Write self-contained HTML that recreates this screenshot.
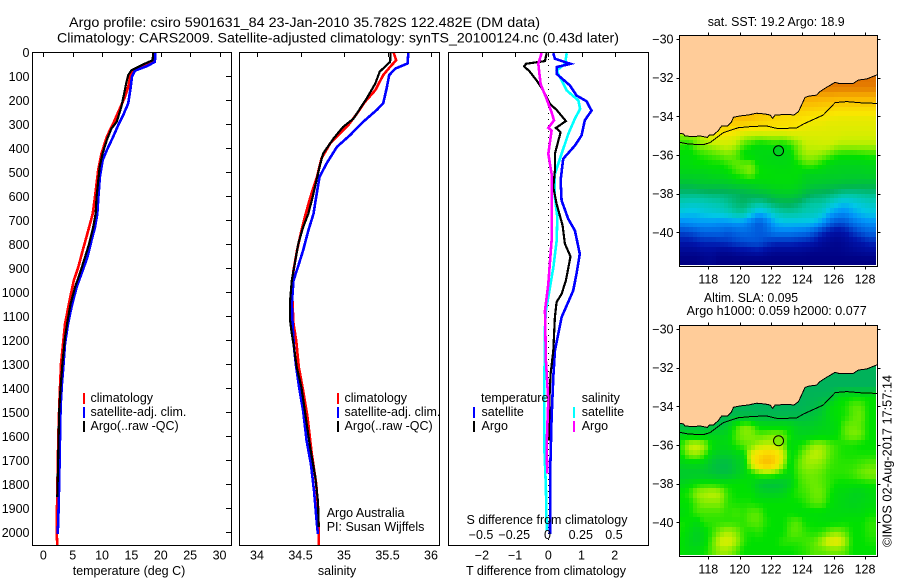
<!DOCTYPE html>
<html>
<head>
<meta charset="utf-8">
<title>Argo profile csiro 5901631_84</title>
<style>
html,body{margin:0;padding:0;background:#fff;}
svg{display:block;}
text{font-family:"Liberation Sans",sans-serif;font-size:12.5px;fill:#000;}
</style>
</head>
<body>
<svg id="chart" xmlns="http://www.w3.org/2000/svg" width="900" height="580" viewBox="0 0 900 580">
  <rect x="0" y="0" width="900" height="580" fill="#fff"/>
  <text x="69" y="27" style="font-size:14px" textLength="471" lengthAdjust="spacingAndGlyphs">Argo profile: csiro 5901631_84 23-Jan-2010 35.782S 122.482E (DM data)</text>
  <text x="57" y="42.5" style="font-size:14px" textLength="562" lengthAdjust="spacingAndGlyphs">Climatology: CARS2009. Satellite-adjusted climatology: synTS_20100124.nc (0.43d later)</text>

  <g id="panel-t"></g>
  <g id="panel-s"></g>
  <g id="panel-d"></g>
  <g id="map-sst"></g>
  <g id="map-sla"></g>

  <text x="129" y="575" text-anchor="middle">temperature (deg C)</text>
  <text x="337" y="575" text-anchor="middle">salinity</text>
  <text x="546" y="575" text-anchor="middle">T difference from climatology</text>
  <text x="547" y="524" text-anchor="middle">S difference from climatology</text>

  <g>
    <rect x="83" y="393" width="2" height="11" fill="#ff0000"/>
    <text x="90.5" y="402">climatology</text>
    <rect x="83" y="407" width="2" height="11" fill="#0000ff"/>
    <text x="90.5" y="416">satellite-adj. clim.</text>
    <rect x="83" y="421" width="2" height="11" fill="#000"/>
    <text x="90.5" y="430">Argo(..raw -QC)</text>
  </g>
  <g>
    <rect x="337" y="393" width="2" height="11" fill="#ff0000"/>
    <text x="344.5" y="402">climatology</text>
    <rect x="337" y="407" width="2" height="11" fill="#0000ff"/>
    <text x="344.5" y="416">satellite-adj. clim.</text>
    <rect x="337" y="421" width="2" height="11" fill="#000"/>
    <text x="344.5" y="430">Argo(..raw -QC)</text>
    <text x="326.7" y="517">Argo Australia</text>
    <text x="326.7" y="531">PI: Susan Wijffels</text>
  </g>
  <g>
    <text x="481" y="402">temperature</text>
    <rect x="473" y="407" width="2" height="11" fill="#0000ff"/>
    <text x="481.5" y="416">satellite</text>
    <rect x="473" y="421" width="2" height="11" fill="#000"/>
    <text x="481.5" y="430">Argo</text>
    <text x="581.7" y="402">salinity</text>
    <rect x="573" y="407" width="2" height="11" fill="#00ffff"/>
    <text x="581.7" y="416">satellite</text>
    <rect x="573" y="421" width="2" height="11" fill="#ff00ff"/>
    <text x="581.7" y="430">Argo</text>
  </g>

  <text x="707.7" y="26" textLength="137" lengthAdjust="spacingAndGlyphs">sat. SST: 19.2 Argo: 18.9</text>
  <text x="704" y="302" textLength="94" lengthAdjust="spacingAndGlyphs">Altim. SLA: 0.095</text>
  <text x="686.7" y="315" textLength="180" lengthAdjust="spacingAndGlyphs">Argo h1000: 0.059 h2000: 0.077</text>
  <text transform="translate(891.5,547) rotate(-90)" textLength="172" lengthAdjust="spacingAndGlyphs">©IMOS 02-Aug-2017 17:57:14</text>
</svg>

<script>
// ---------- profile data ----------
const depthTicks = [0,100,200,300,400,500,600,700,800,900,1000,1100,1200,1300,1400,1500,1600,1700,1800,1900,2000];
const tempTicks = [0,5,10,15,20,25,30];
const salTicks = [34,34.5,35,35.5,36];
const salTickLabels = ['34','34.5','35','35.5','36'];
const dTTicks = [-2,-1,0,1,2];
const dTTickLabels = ['\u22122','\u22121','0','1','2'];
const dSTicks = [-0.5,-0.25,0,0.25,0.5];
const dSTickLabels = ['\u22120.5','\u22120.25','0','0.25','0.5'];

const tempClimDepth = [0,39,53,74,94,143,185,240,296,351,421,490,601,672,742,825,894,950,1012,1061,1131,1228,1297,1367,1464,1603,1756,1992,2054];
const tempClimValue = [18.9,18.8,17.5,15.3,14.85,14.45,13.9,12.9,11.9,10.8,9.9,9.35,8.8,8.4,7.65,6.7,5.95,5.2,4.65,4.25,3.7,3.3,3.02,2.9,2.72,2.55,2.44,2.27,2.38];
const tempSatDepth = [0,39,57,76,101,150,212,261,303,351,407,449,518,601,672,728,783,853,922,978,1061,1131,1214,1311,1381,1478,1631,1770,1950,2006];
const tempSatValue = [19.05,19,17.6,15.6,15.1,14.85,14.45,13.6,12.75,11.9,10.8,10.1,9.64,9.38,9.2,8.8,8.2,7.5,6.5,5.67,4.8,4.2,3.7,3.4,3.17,2.95,2.83,2.72,2.55,2.45];
const tempArgoDepth = [0,32,53,74,94,122,178,226,289,317,365,421,476,601,672,728,797,853,922,978,1047,1117,1186,1297,1394,1492,1603,1728,1853];
const tempArgoValue = [18.7,18.6,16.7,15,14.45,14.17,13.7,13.3,12.5,11.6,10.8,10.1,9.6,9.07,8.9,8.5,7.8,7.1,6.2,5.4,4.65,4.14,3.7,3.25,2.95,2.7,2.6,2.5,2.38];

const salClimDepth = [0,32,60,94,157,206,254,303,338,379,442,518,601,672,742,825,908,964,1061,1131,1200,1311,1408,1519,1672,1797,1908,2054];
const salClimValue = [35.57,35.6,35.53,35.45,35.36,35.24,35.15,35.05,34.95,34.84,34.74,34.69,34.615,34.56,34.51,34.46,34.42,34.4,34.41,34.42,34.45,34.48,34.53,34.58,34.63,34.68,34.705,34.71];
const salSatDepth = [0,46,67,94,150,212,240,289,344,393,462,518,601,672,742,825,894,950,1047,1144,1228,1311,1408,1492,1617,1714,1825,1950,2006];
const salSatValue = [35.74,35.73,35.59,35.52,35.49,35.45,35.375,35.22,35.07,34.92,34.8,34.72,34.68,34.65,34.59,34.53,34.47,34.42,34.4,34.41,34.425,34.45,34.49,34.53,34.57,34.62,34.655,34.685,34.7];
const salArgoDepth = [0,39,80,129,192,247,275,310,358,421,476,601,672,728,797,867,950,1033,1117,1172,1228,1311,1394,1492,1644,1769,1867,1978];
const salArgoValue = [35.536,35.53,35.41,35.36,35.26,35.16,35.11,34.99,34.88,34.76,34.72,34.64,34.59,34.53,34.475,34.44,34.4,34.38,34.38,34.4,34.425,34.456,34.51,34.55,34.61,34.67,34.7,34.71];

const dTSatDepth = [3,26,40,47,61,89,137,179,203,242,283,346,388,443,533,617,693,742,839,922,992,1040,1103,1172,1242,1353,1519,1728,2006];
const dTSatValue = [0.15,0.2,0.5,0.67,0.25,0.25,0.65,0.85,1.15,1.3,1.1,1,0.8,0.45,0.37,0.4,0.6,0.8,0.95,0.85,0.75,0.6,0.4,0.3,0.2,0.15,0.1,0.06,0.05];
const dTArgoDepth = [3,36,47,58,78,117,158,214,239,286,314,332,422,492,561,631,721,797,850,950,1006,1040,1103,1242,1339,1450,1617];
const dTArgoValue = [-0.05,-0.1,-0.67,-0.73,-0.57,-0.35,-0.15,0.05,0.25,0.53,0.23,0.37,0.2,0.2,0.15,0.25,0.43,0.5,0.67,0.53,0.4,0.25,0.2,0.15,0.07,0.03,0.02];
const dSSatDepth = [3,47,75,103,158,200,235,276,339,401,506,603,686,783,894,1019,1075,1144,1283,1450,1644,1811,1992];
const dSSatValue = [0.138,0.126,0.063,0.088,0.138,0.226,0.239,0.2,0.15,0.113,0.05,0.05,0.068,0.063,0.038,0,-0.018,-0.025,-0.028,-0.03,-0.03,-0.018,-0.012];
const dSArgoDepth = [3,47,131,186,249,283,314,325,422,506,783,964,1075,1283,1450,1631,1755];
const dSArgoValue = [-0.05,-0.075,-0.058,-0.018,0.025,0.043,0,0.025,0,0.025,0.025,0,-0.025,-0.018,0,-0.012,-0.008];

// ---------- map data (0.5 degree grid) ----------
const mapLons = [116.25,116.75,117.25,117.75,118.25,118.75,119.25,119.75,120.25,120.75,121.25,121.75,122.25,122.75,123.25,123.75,124.25,124.75,125.25,125.75,126.25,126.75,127.25,127.75,128.25];
const mapLats = [-32,-32.5,-33,-33.5,-34,-34.5,-35,-35.5,-36,-36.5,-37,-37.5,-38,-38.5,-39,-39.5,-40,-40.5,-41,-41.5];
const sstGrid = [
[25,25,25,25,25,25,25,25,25,25,25,25,25,25,25,25,25,25,25,25,25,25,25,25,25],
[24.8,24.8,24.8,24.8,24.8,24.8,24.8,24.8,24.8,24.8,24.8,24.8,24.8,24.8,24.8,24.8,24.8,24.8,24.8,24.8,24.8,24.8,24.8,24.8,24.8],
[24,24,24,24,24,24,24,24,24,24,24,24,24,24,24,24,23.8,23.8,23.7,23.7,23.6,23.6,23.6,23.6,23.6],
[23,23,23,23,23,23,23,23,23,23,23,23,23,23,23,23,23,22.9,22.8,22.7,22.5,22.5,22.5,22.5,22.5],
[22,22,22,22,22.5,23,23.2,23.4,23.5,23.4,23,22.8,22.5,22.4,22.3,22.3,22.2,22,22,21.9,21.8,21.8,21.8,21.8,21.8],
[21.5,21.5,21.5,21.8,22.2,22.5,22.6,22.6,22.4,22.3,22.3,22.2,22.2,22.2,22.2,22,21.8,21.7,21.7,21.6,21.6,21.6,21.6,21.6,21.6],
[20.6,20.8,20.8,21.4,21.8,21.9,21.8,21.6,21.2,21.1,21,21.1,21.1,21.1,21.3,21.4,21.5,21.5,21.5,21.5,21.5,21.4,21.4,21.4,21.4],
[20,19.8,20.6,20.8,21,21.2,21.3,21,20.2,19.9,19.5,19.6,19.8,19.6,20,20.6,21.2,21.2,21.3,21.3,21,21,21,21,21],
[19.5,19.5,19.8,20,20.2,20.4,20.6,20.3,19.5,19.3,19.2,19.2,19,19.1,19.4,20.4,20.9,20.9,20.7,20.3,19.9,19.8,19.8,19.9,20],
[19.4,19.4,19.6,19.6,19.7,19.7,20,20.4,20.5,20.6,19.6,19.4,19.4,19.3,19.4,19.7,20.2,20.2,19.7,19.2,19,19,19,19,19.1],
[19,19,19,19,19.2,19.3,19.5,20,20.3,20.6,19.7,19.6,19.5,19.5,19.5,19.5,19,19,19,18.9,18.9,18.8,18.8,18.8,18.9],
[18.2,18.2,18.4,18.5,18.5,18.5,18.6,18.8,18.9,19,19.2,19.3,19.4,19.4,19.4,19.2,18.8,18.6,18.5,18.4,18.3,18.2,18.2,18.1,18.1],
[17,17,17,17.1,17.2,17.2,17.3,17.4,17.6,17.8,18,18.2,18.6,18.7,18.7,18.5,17.9,17.5,17.4,17.2,16.9,16.7,16.7,16.8,16.9],
[16.3,16.2,16.2,16.3,16.4,16.5,16.8,17.2,17.4,17,16.7,17,17.4,17.6,17.6,17.3,16.8,16.6,16.6,16.2,15.8,15.6,15.8,16,16.2],
[15.7,15.6,15.6,15.8,15.9,16,16.2,16.6,16.6,15.9,15.3,15.6,16.2,16.5,16.6,16.5,16.3,16.3,16,15.3,14.9,14.8,15.2,15.5,15.7],
[14.8,14.9,15,15,15,14.9,14.9,15,14.9,14.5,14,14.5,15.3,15.6,15.6,15.6,15.6,15.5,15,14.2,13.8,13.9,14.4,14.7,14.9],
[13.7,13.8,14,14.2,14.2,14.2,14,14.2,14.3,14.2,14,14.2,14.6,14.6,14.6,14.5,14.4,14,13.4,13,12.8,13,13.5,13.9,14.2],
[13,13,13.2,13.3,13.3,13.4,13.5,13.7,13.8,13.9,13.9,13.6,13.4,13.4,13.4,13.3,13.2,13,12.6,12.4,12.3,12.5,12.8,13,13.3],
[12.4,12.4,12.4,12.6,12.6,12.4,12.4,12.6,12.7,12.8,12.9,12.6,12.4,12.4,12.4,12.4,12.3,12.2,12.2,12.2,12.2,12.3,12.4,12.5,12.6],
[12,12,12,12.2,12.3,12,12,12,12,12,12,12,12,12,12,12,12,12,12,12,12,12,12,12,12]
];
const slaGrid = [
[-0.035,-0.035,-0.035,-0.035,-0.035,-0.035,-0.035,-0.035,-0.035,-0.035,-0.035,-0.035,-0.035,-0.035,-0.035,-0.035,-0.035,-0.035,-0.035,-0.035,-0.035,-0.035,-0.035,-0.035,-0.035],
[-0.035,-0.035,-0.035,-0.035,-0.035,-0.035,-0.035,-0.035,-0.035,-0.035,-0.035,-0.035,-0.035,-0.035,-0.035,-0.035,-0.035,-0.035,-0.035,-0.035,-0.035,-0.035,-0.035,-0.035,-0.035],
[-0.035,-0.035,-0.035,-0.035,-0.035,-0.035,-0.035,-0.035,-0.035,-0.035,-0.035,-0.035,-0.035,-0.035,-0.035,-0.035,-0.035,-0.035,-0.035,-0.035,-0.035,-0.035,-0.035,-0.035,-0.035],
[-0.035,-0.035,-0.035,-0.035,-0.035,-0.035,-0.035,-0.035,-0.035,-0.035,-0.035,-0.035,-0.035,-0.035,-0.035,-0.035,-0.033,-0.03,-0.03,-0.025,0.02,0.025,0.03,0.03,0.03],
[-0.035,-0.035,-0.035,-0.035,-0.035,-0.035,-0.035,-0.035,-0.035,-0.035,-0.035,-0.035,-0.035,-0.035,-0.035,-0.033,-0.03,-0.025,-0.01,0.02,0.03,0.035,0.05,0.05,0.03],
[-0.03,-0.03,-0.03,-0.03,-0.03,-0.03,-0.03,-0.02,-0.02,-0.02,-0.025,-0.025,-0.025,-0.025,-0.025,-0.025,-0.02,-0.01,0,0.02,0.03,0.035,0.05,0.055,0.03],
[-0.025,-0.025,-0.025,-0.025,-0.02,-0.02,0,0.04,0.06,0.055,0.025,0.02,0.02,0.02,0.015,0.005,0,0.005,0.01,0.015,0.025,0.05,0.055,0.05,0.03],
[0.01,0.015,0.015,0.01,0.01,0.01,0.015,0.05,0.06,0.06,0.05,0.055,0.06,0.055,0.03,0.01,0.01,0.015,0.02,0.02,0.03,0.05,0.06,0.055,0.03],
[0.04,0.075,0.08,0.07,0.03,0.02,0.02,0.04,0.05,0.055,0.07,0.075,0.07,0.06,0.02,0.03,0.045,0.065,0.065,0.05,0.04,0.035,0.035,0.03,0.03],
[0.03,0.06,0.065,0.05,0.01,0,0,0.01,0.02,0.09,0.11,0.125,0.115,0.085,0.02,0.04,0.065,0.075,0.07,0.05,0.04,0.035,0.035,0.035,0.035],
[0.01,0.015,0.015,0.01,-0.01,-0.02,-0.02,0,0.01,0.08,0.12,0.14,0.12,0.07,0.02,0.05,0.065,0.065,0.06,0.045,0.04,0.04,0.04,0.045,0.05],
[-0.005,-0.005,-0.005,-0.005,-0.01,-0.015,-0.015,0,0.015,0.03,0.05,0.055,0.05,0.03,0.02,0.045,0.055,0.055,0.05,0.04,0.04,0.04,0.045,0.055,0.06],
[0.01,0.02,0.03,0.035,0.035,0.03,0.03,0.03,0.03,0.02,-0.005,-0.015,-0.015,-0.01,0.01,0.04,0.05,0.055,0.05,0.04,0.03,0.03,0.03,0.03,0.035],
[0.03,0.04,0.065,0.07,0.075,0.07,0.04,0.03,0.03,0.03,0.01,0.005,0.005,0.01,0.03,0.04,0.045,0.055,0.055,0.035,0.02,0.02,0.01,0.01,0.02],
[0.03,0.03,0.05,0.06,0.06,0.06,0.04,0.035,0.035,0.035,0.03,0.03,0.03,0.03,0.03,0.03,0.04,0.05,0.05,0.03,0.02,0.015,0.01,0.015,0.02],
[0.02,0.03,0.045,0.045,0.045,0.045,0.04,0.045,0.04,0.05,0.05,0.03,0.03,0.03,0.03,0.025,0.025,0.025,0.025,0.02,0.02,0.02,0.02,0.02,0.03],
[0.035,0.03,0.02,0.04,0.04,0.04,0.04,0.04,0.04,0.05,0.05,0.035,0.03,0.03,0.045,0.05,0.03,0.03,0.025,0.025,0.025,0.03,0.03,0.03,0.04],
[0.035,0.02,0.005,0.02,0.04,0.06,0.07,0.06,0.04,0.035,0.04,0.03,0.03,0.03,0.05,0.05,0.04,0.035,0.04,0.055,0.06,0.05,0.03,0.03,0.04],
[0.03,0.015,0.005,0.02,0.05,0.08,0.085,0.07,0.04,0.03,0.03,0.03,0.03,0.04,0.04,0.04,0.045,0.05,0.07,0.09,0.095,0.07,0.03,0.03,0.035],
[0.03,0.02,0.02,0.03,0.05,0.065,0.065,0.05,0.03,0.03,0.03,0.03,0.03,0.03,0.03,0.035,0.04,0.05,0.05,0.055,0.055,0.05,0.03,0.03,0.03]
];
const coastLons = [116.15,116.41,116.51,117.04,117.47,117.94,118.06,118.32,118.64,118.85,119.21,119.49,119.6,120.02,120.55,121.09,121.62,121.94,122.11,122.26,123.11,123.47,123.75,123.9,124.17,124.45,124.92,125.13,125.45,126.09,126.3,127.26,127.57,128.11,128.81];
const coastLats = [-34.88,-34.91,-35.02,-35.05,-35.02,-35.09,-34.97,-34.97,-34.74,-34.5,-34.5,-34.28,-34.05,-33.98,-33.93,-33.84,-33.88,-33.93,-34.1,-33.93,-33.9,-33.93,-33.76,-33.5,-33.02,-32.95,-32.9,-32.72,-32.55,-32.24,-32.29,-32.29,-32.12,-32.07,-31.84];
const isoLons = [116.15,116.72,117.68,118.11,118.96,119.92,120.87,121.72,122.47,123.64,124.06,125.34,126.09,126.83,127.89,128.81];
const isoLats = [-35.34,-35.43,-35.47,-35.36,-34.84,-34.59,-34.52,-34.5,-34.64,-34.6,-34.4,-33.93,-33.29,-33.24,-33.31,-33.33];
const floatLon = 122.482;
const floatLat = -35.782;
const floatSst = 18.9;
const floatSla = 0.059;
const lonTicks = [118,120,122,124,126,128];
const latTicks = [-30,-32,-34,-36,-38,-40];

// ---------- helpers ----------
const NS = 'http://www.w3.org/2000/svg';
function mk(parent, tag, attrs, name) {
  const el = document.createElementNS(NS, tag);
  for (const k in attrs) el.setAttribute(k, attrs[k]);
  
  
  parent.appendChild(el);
  return el;
}
function label(parent, x, y, str, anchor, name) {
  const el = mk(parent, 'text', {x: x, y: y, 'text-anchor': anchor}, name);
  el.textContent = str;
  return el;
}
const yDepth = d => 52.5 + 0.24 * d;
function profile(parent, depths, values, xf, color, width, name) {
  const pts = depths.map((d, i) => xf(values[i]).toFixed(1) + ',' + yDepth(d).toFixed(1)).join(' ');
  mk(parent, 'polyline', {points: pts, fill: 'none', stroke: color, 'stroke-width': width, 'shape-rendering': 'crispEdges', 'stroke-linejoin': 'miter'}, name);
}
function frame(parent, x0, x1) {
  mk(parent, 'rect', {x: x0, y: 52.5, width: x1 - x0, height: 493, fill: 'none', stroke: '#000', 'stroke-width': 1, 'shape-rendering': 'crispEdges'}, 'panel-frame');
}
function topTicks(parent, ticks, xf) {
  ticks.forEach(t => {
    const x = Math.round(xf(t)) + 0.5;
    mk(parent, 'line', {x1: x, x2: x, y1: 52.5, y2: 57, stroke: '#000', 'stroke-width': 1, 'shape-rendering': 'crispEdges'}, 'x-tick');
  });
}

// ---------- temperature panel ----------
const xT = v => 43.3 + 5.875 * v;
const gT = document.getElementById('panel-t');
profile(gT, tempClimDepth, tempClimValue, xT, '#ff0000', 2.6, 'temperature-climatology-line');
profile(gT, tempSatDepth, tempSatValue, xT, '#0000ff', 2.6, 'temperature-satellite-line');
profile(gT, tempArgoDepth, tempArgoValue, xT, '#000000', 2.2, 'temperature-argo-line');
frame(gT, 32.5, 231.5);
topTicks(gT, tempTicks, xT);
tempTicks.forEach(t => label(gT, xT(t), 559.5, String(t), 'middle', 'temperature-tick-label'));
depthTicks.forEach(d => {
  const y = Math.round(yDepth(d) - 0.5) + 0.5;
  mk(gT, 'line', {x1: 226, x2: 231.5, y1: y, y2: y, stroke: '#000', 'stroke-width': 1, 'shape-rendering': 'crispEdges'}, 'depth-tick');
  label(gT, 29.5, yDepth(d) + 4.5, String(d), 'end', 'depth-tick-label');
});

// ---------- salinity panel ----------
const xS = v => 257 + 87 * (v - 34);
const gS = document.getElementById('panel-s');
profile(gS, salClimDepth, salClimValue, xS, '#ff0000', 2.6, 'salinity-climatology-line');
profile(gS, salSatDepth, salSatValue, xS, '#0000ff', 2.6, 'salinity-satellite-line');
profile(gS, salArgoDepth, salArgoValue, xS, '#000000', 2.2, 'salinity-argo-line');
frame(gS, 239.5, 439.5);
topTicks(gS, salTicks, xS);
salTicks.forEach((t, i) => label(gS, xS(t), 559.5, salTickLabels[i], 'middle', 'salinity-tick-label'));

// ---------- difference panel ----------
const xDT = v => 548.3 + 33.2 * v;
const xDS = v => 548.3 + 133 * v;
const gD = document.getElementById('panel-d');
mk(gD, 'line', {x1: 548.5, x2: 548.5, y1: 53, y2: 545, stroke: '#000', 'stroke-width': 1, 'stroke-dasharray': '1 5', 'shape-rendering': 'crispEdges'}, 'zero-line');
profile(gD, dSSatDepth, dSSatValue, xDS, '#00ffff', 2.6, 's-difference-satellite-line');
profile(gD, dTSatDepth, dTSatValue, xDT, '#0000ff', 2.6, 't-difference-satellite-line');
profile(gD, dTArgoDepth, dTArgoValue, xDT, '#000000', 2.2, 't-difference-argo-line');
profile(gD, dSArgoDepth, dSArgoValue, xDS, '#ff00ff', 2.6, 's-difference-argo-line');
frame(gD, 448.5, 648.5);
topTicks(gD, dTTicks, xDT);
dTTicks.forEach((t, i) => label(gD, xDT(t), 559.5, dTTickLabels[i], 'middle', 't-difference-tick-label'));
dSTicks.forEach((t, i) => label(gD, xDS(t) - 0.8, 539, dSTickLabels[i], 'middle', 's-difference-tick-label'));

// ---------- colour map ----------
const cmapPos = [0,0.077,0.154,0.231,0.285,0.346,0.423,0.515,0.592,0.654,0.708,0.769,0.885,1];
const cmapRgb = [[0,0,130],[0,20,170],[0,90,220],[0,150,250],[0,200,230],[0,200,170],[0,178,90],[0,205,40],[0,225,0],[110,235,0],[200,240,0],[250,230,0],[250,180,0],[225,115,0]];
function colour(t) {
  t = Math.max(0, Math.min(1, t));
  let i = 0;
  while (i < cmapPos.length - 2 && t > cmapPos[i + 1]) i++;
  const f = (t - cmapPos[i]) / (cmapPos[i + 1] - cmapPos[i]);
  const a = cmapRgb[i], b = cmapRgb[i + 1];
  return 'rgb(' + [0, 1, 2].map(k => Math.round(a[k] + (b[k] - a[k]) * f)).join(',') + ')';
}
function sample(grid, lon, lat) {
  let fx = (lon - mapLons[0]) / 0.5;
  let fy = (mapLats[0] - lat) / 0.5;
  fx = Math.max(0, Math.min(mapLons.length - 1, fx));
  fy = Math.max(0, Math.min(mapLats.length - 1, fy));
  const i = Math.min(Math.floor(fx), mapLons.length - 2), j = Math.min(Math.floor(fy), mapLats.length - 2);
  const u = fx - i, v = fy - j;
  return grid[j][i] * (1 - u) * (1 - v) + grid[j][i + 1] * u * (1 - v) + grid[j + 1][i] * (1 - u) * v + grid[j + 1][i + 1] * u * v;
}

// ---------- maps ----------
function drawMap(g, id, top, grid, norm, floatValue, prefix) {
  const xLon = lon => 708.3 + (lon - 118) * 15.67;
  const yLat = lat => top + 4 + (-30 - lat) * 19.33;
  const left = 679.5, right = 877.5, bottom = top + 231.5;
  const clip = mk(g, 'clipPath', {id: id + '-clip'}, prefix + '-clip-region');
  mk(clip, 'rect', {x: left, y: top, width: 876 - left, height: 230}, prefix + '-clip-rect');
  const cells = mk(g, 'g', {'clip-path': 'url(#' + id + '-clip)', 'shape-rendering': 'crispEdges'}, prefix + '-heatmap');
  for (let i = 0; i < 51; i++) {
    for (let j = 0; j < 40; j++) {
      const lon = 116.125 + 0.25 * i, lat = -31.875 - 0.25 * j;
      const x0 = Math.round(xLon(lon - 0.125)), x1 = Math.round(xLon(lon + 0.125));
      const y0 = Math.round(yLat(lat + 0.125)), y1 = Math.round(yLat(lat - 0.125));
      const cell = document.createElementNS(NS, 'rect');
      cell.setAttribute('x', x0);
      cell.setAttribute('y', y0);
      cell.setAttribute('width', x1 - x0);
      cell.setAttribute('height', y1 - y0);
      cell.setAttribute('fill', colour(norm(sample(grid, lon, lat))));
      
      
      cells.appendChild(cell);
    }
  }
  const clip2 = mk(g, 'clipPath', {id: id + '-clip2'}, prefix + '-frame-clip');
  mk(clip2, 'rect', {x: left, y: top, width: right - left, height: bottom - top}, prefix + '-frame-clip-rect');
  const over = mk(g, 'g', {'clip-path': 'url(#' + id + '-clip2)'}, prefix + '-overlay');
  const coast = coastLons.map((c, i) => xLon(c).toFixed(1) + ',' + yLat(coastLats[i]).toFixed(1)).join(' ');
  mk(over, 'polygon', {points: coast + ' ' + right + ',' + top + ' ' + left + ',' + top, fill: '#ffcc99'}, prefix + '-land');
  mk(over, 'polyline', {points: coast, fill: 'none', stroke: '#000', 'stroke-width': 1, 'shape-rendering': 'crispEdges'}, prefix + '-coastline');
  const iso = isoLons.map((c, i) => xLon(c).toFixed(1) + ',' + yLat(isoLats[i]).toFixed(1)).join(' ');
  mk(over, 'polyline', {points: iso, fill: 'none', stroke: '#000', 'stroke-width': 1, 'shape-rendering': 'crispEdges'}, prefix + '-isobath');
  mk(over, 'circle', {cx: xLon(floatLon), cy: yLat(floatLat), r: 5, fill: colour(norm(floatValue)), stroke: '#000', 'stroke-width': 1}, prefix + '-argo-float-marker');
  mk(g, 'rect', {x: left, y: top + 0.5, width: right - left, height: 231, fill: 'none', stroke: '#000', 'stroke-width': 1, 'shape-rendering': 'crispEdges'}, prefix + '-frame');
  lonTicks.forEach(t => {
    const x = Math.round(xLon(t)) + 0.5;
    mk(g, 'line', {x1: x, x2: x, y1: top - 2.5, y2: top + 0.5, stroke: '#000', 'shape-rendering': 'crispEdges'}, prefix + '-top-tick');
    mk(g, 'line', {x1: x, x2: x, y1: top + 231.5, y2: top + 234.5, stroke: '#000', 'shape-rendering': 'crispEdges'}, prefix + '-bottom-tick');
    label(g, xLon(t), top + 248.5, String(t), 'middle', prefix + '-lon-tick-label');
  });
  latTicks.forEach(t => {
    const y = Math.round(yLat(t)) + 0.5;
    mk(g, 'line', {x1: left - 3, x2: left, y1: y, y2: y, stroke: '#000', 'shape-rendering': 'crispEdges'}, prefix + '-left-tick');
    mk(g, 'line', {x1: right, x2: right + 3, y1: y, y2: y, stroke: '#000', 'shape-rendering': 'crispEdges'}, prefix + '-right-tick');
    label(g, 673.5, yLat(t) + 4.5, '\u2212' + Math.abs(t), 'end', prefix + '-lat-tick-label');
  });
}
drawMap(document.getElementById('map-sst'), 'sst', 35, sstGrid, v => (v - 12) / 13, floatSst, 'sst');
drawMap(document.getElementById('map-sla'), 'sla', 325, slaGrid, v => (v + 0.2) / 0.39, floatSla, 'sla');
</script>
</body>
</html>
